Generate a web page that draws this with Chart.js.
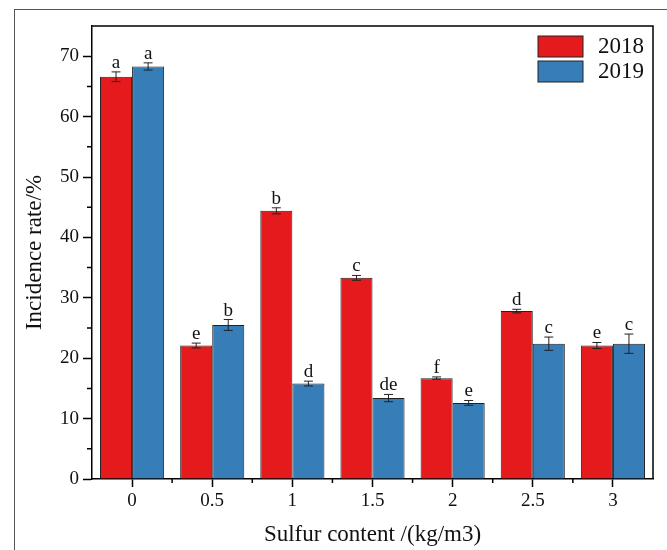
<!DOCTYPE html>
<html>
<head>
<meta charset="utf-8">
<script src="https://cdn.jsdelivr.net/npm/chart.js"></script>
<style>
  body { margin: 0; background: #fff; overflow: hidden; }
  #frame { position: absolute; left: 14px; top: 9px; width: 700px; height: 600px; border: 1px solid #555; }
  #wrap { position: absolute; left: 0; top: 0; width: 667px; height: 550px; }
</style>
</head>
<body>
<div id="frame"></div>
<div id="wrap"><canvas id="chart" width="667" height="550"></canvas></div>
<script>
// sulfur content categories (kg/m3)
var categories = ['0', '0.5', '1', '1.5', '2', '2.5', '3'];
// incidence rate %
var rate2018 = [66.6, 22.1, 44.4, 33.3, 16.7, 27.8, 22.1];
var err2018 = [0.8, 0.4, 0.5, 0.4, 0.2, 0.3, 0.5];
var rate2019 = [68.3, 25.5, 15.8, 13.4, 12.6, 22.4, 22.4];
var err2019 = [0.6, 0.9, 0.4, 0.6, 0.4, 1.1, 1.6];
var letters2018 = ['a', 'e', 'b', 'c', 'f', 'd', 'e'];
var letters2019 = ['a', 'b', 'd', 'de', 'e', 'c', 'c'];

var serif = "'Liberation Serif', 'Times New Roman', serif";

/* error bars, significance letters, minor ticks, box and legend */
var extras = {
    id: 'extras',
    afterDatasetsDraw: function (chart) {
        var ctx = chart.ctx;
        var y = chart.scales.y;
        var x = chart.scales.x;
        var area = chart.chartArea;
        ctx.save();
        chart.data.datasets.forEach(function (ds, di) {
            var meta = chart.getDatasetMeta(di);
            meta.data.forEach(function (bar, i) {
                var v = ds.data[i], e = ds.errors[i];
                var top = y.getPixelForValue(v + e);
                var bot = y.getPixelForValue(v - e);
                ctx.strokeStyle = '#222';
                ctx.lineWidth = 1;
                ctx.beginPath();
                ctx.moveTo(bar.x, top); ctx.lineTo(bar.x, bot);
                ctx.moveTo(bar.x - 4.5, top); ctx.lineTo(bar.x + 4.5, top);
                ctx.moveTo(bar.x - 4.5, bot); ctx.lineTo(bar.x + 4.5, bot);
                ctx.stroke();
                ctx.fillStyle = '#111';
                ctx.font = '19px ' + serif;
                ctx.textAlign = 'center';
                ctx.textBaseline = 'alphabetic';
                ctx.fillText(ds.letters[i], bar.x, top - 4);
            });
        });

        // plot box
        ctx.strokeStyle = '#000';
        ctx.lineWidth = 1.5;
        ctx.beginPath();
        ctx.moveTo(area.left, area.top); ctx.lineTo(area.right, area.top);
        ctx.lineTo(area.right, area.bottom);
        ctx.stroke();

        // minor ticks
        ctx.lineWidth = 1.5;
        ctx.beginPath();
        y.ticks.forEach(function (t) {
            if (t.value + 5 < y.max) {
                var py = y.getPixelForValue(t.value + 5);
                ctx.moveTo(area.left - 5, py); ctx.lineTo(area.left, py);
            }
        });
        for (var j = 1; j < categories.length; j++) {
            var px = (x.getPixelForValue(j - 1) + x.getPixelForValue(j)) / 2;
            ctx.moveTo(px, area.bottom); ctx.lineTo(px, area.bottom + 4);
        }
        ctx.stroke();

        // legend
        ctx.font = '23px ' + serif;
        ctx.textAlign = 'left';
        ctx.textBaseline = 'middle';
        chart.data.datasets.forEach(function (ds, di) {
            var ly = area.top + 10 + di * 25;
            ctx.fillStyle = ds.backgroundColor;
            ctx.fillRect(area.right - 115, ly, 45, 21);
            ctx.strokeStyle = '#222';
            ctx.lineWidth = 1;
            ctx.strokeRect(area.right - 115, ly, 45, 21);
            ctx.fillStyle = '#111';
            ctx.fillText(ds.label, area.right - 55, ly + 11);
        });
        ctx.restore();
    }
};

new Chart(document.getElementById('chart'), {
    type: 'bar',
    data: {
        labels: categories,
        datasets: [{
            label: '2018',
            data: rate2018,
            errors: err2018,
            letters: letters2018,
            backgroundColor: '#E41A1C',
            borderColor: '#222',
            borderWidth: 1,
            categoryPercentage: 0.8,
            barPercentage: 1.0
        }, {
            label: '2019',
            data: rate2019,
            errors: err2019,
            letters: letters2019,
            backgroundColor: '#377EB8',
            borderColor: '#222',
            borderWidth: 1,
            categoryPercentage: 0.8,
            barPercentage: 1.0
        }]
    },
    options: {
        responsive: false,
        animation: false,
        layout: { padding: { left: 0, right: 14, top: 26, bottom: 0 } },
        plugins: { legend: { display: false }, tooltip: { enabled: false } },
        scales: {
            x: {
                afterFit: function (s) { s.height = 71; },
                grid: { offset: false, drawOnChartArea: false, tickLength: 8, tickColor: '#000', tickWidth: 1.5 },
                border: { color: '#000', width: 1.5 },
                ticks: { color: '#111', padding: 3, maxRotation: 0, font: { family: serif, size: 19 } },
                title: {
                    display: true,
                    text: 'Sulfur content /(kg/m3)',
                    color: '#111',
                    font: { family: serif, size: 23, lineHeight: 1.2 },
                    padding: { top: 0, bottom: 1 }
                }
            },
            y: {
                min: 0,
                max: 75,
                afterFit: function (s) { s.width = 92; },
                afterBuildTicks: function (s) {
                    s.ticks = s.ticks.filter(function (t) { return t.value % 10 === 0; });
                },
                grid: { drawOnChartArea: false, tickLength: 9, tickColor: '#000', tickWidth: 1.5 },
                border: { color: '#000', width: 1.5 },
                ticks: {
                    stepSize: 10,
                    color: '#111',
                    padding: 4,
                    font: { family: serif, size: 19 }
                },
                title: {
                    display: true,
                    text: 'Incidence rate/%',
                    color: '#111',
                    font: { family: serif, size: 23, lineHeight: 1.2 },
                    padding: { top: 21, bottom: 0 }
                }
            }
        }
    },
    plugins: [extras]
});
</script>
</body>
</html>
